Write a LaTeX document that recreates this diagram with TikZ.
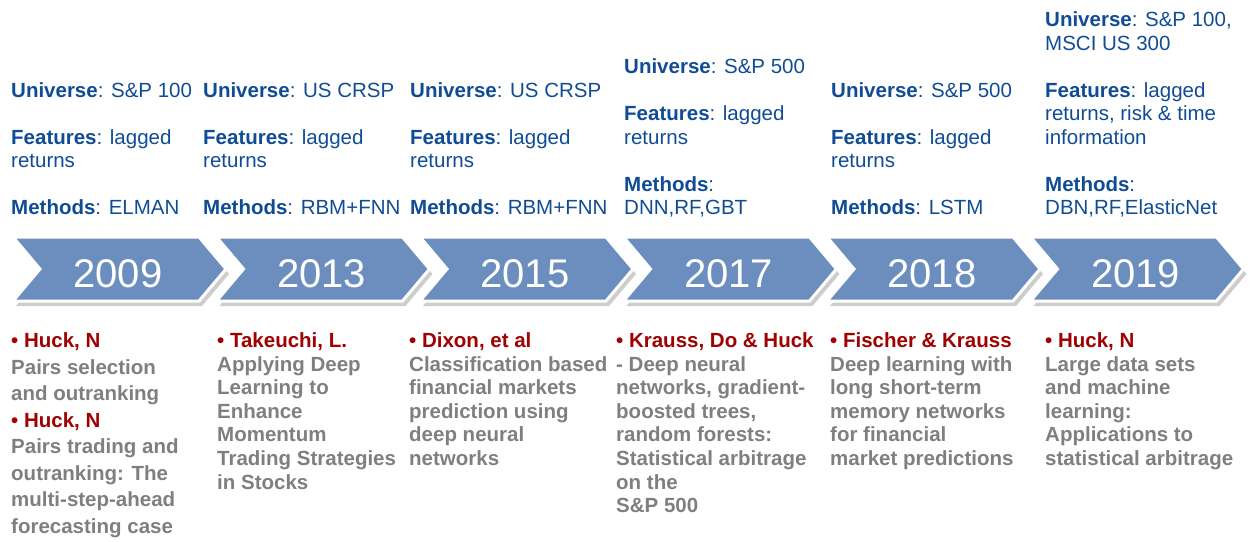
\documentclass[tikz,border=0pt]{standalone}
\usepackage{fontspec}
\setmainfont{Liberation Sans}
\usetikzlibrary{calc}

\definecolor{chevblue}{RGB}{108,142,191}
\definecolor{infoblue}{RGB}{16,76,150}
\definecolor{authred}{RGB}{160,0,0}
\definecolor{papergray}{RGB}{127,127,127}
\definecolor{shadowgray}{RGB}{205,205,205}

\newcommand{\fld}[1]{\textbf{#1}:}
\newcommand{\auth}[1]{\textcolor{authred}{\textbullet\ #1}}

\begin{document}
\begin{tikzpicture}[x=1pt,y=1pt]
                \tikzstyle{every node}=[inner sep=0pt]
                \tikzstyle{year}=[anchor=base,text=white,font=\fontsize{40}{48}\selectfont]
                \tikzstyle{info}=[anchor=base west,text=infoblue,font=\fontsize{20.5}{23.5}\selectfont]
                \tikzstyle{paper}=[anchor=base west,text=papergray,font=\fontsize{20.5}{23.6}\selectfont\bfseries]
                \useasboundingbox (0,0) rectangle (1256,-541);
                % chevrons
                \foreach \yr [count=\i from 0] in {2009,2013,2015,2017,2018,2019}{
                    \pgfmathsetmacro{\xo}{13+203.5*\i}
                    \fill [shadowgray,xshift=3pt,yshift=-5pt] (\xo,-237) -- ++(186,0) -- ++(27,-32) -- ++(-27,-32) -- ++(-186,0) -- ++(27,32) -- cycle;
                    \filldraw [fill=chevblue,draw=white,line width=3pt] (\xo,-237) -- ++(186,0) -- ++(27,-32) -- ++(-27,-32) -- ++(-186,0) -- ++(27,32) -- cycle;
                    \node [year] (y\yr) at (\xo+105,-287.5) {\yr};
                }
                % universe / features / methods
                \node [info] (u2009) at (11,-214.5) {\parbox[b]{210pt}{\raggedright
                    \fld{Universe} S\&P 100\\[\baselineskip]
                    \fld{Features} lagged\\returns\\[\baselineskip]
                    \fld{Methods} ELMAN}};
                \node [info] (u2013) at (203,-214.5) {\parbox[b]{210pt}{\raggedright
                    \fld{Universe} US CRSP\\[\baselineskip]
                    \fld{Features} lagged\\returns\\[\baselineskip]
                    \fld{Methods} RBM+FNN}};
                \node [info] (u2015) at (410,-214.5) {\parbox[b]{210pt}{\raggedright
                    \fld{Universe} US CRSP\\[\baselineskip]
                    \fld{Features} lagged\\returns\\[\baselineskip]
                    \fld{Methods} RBM+FNN}};
                \node [info] (u2017) at (624,-214.5) {\parbox[b]{210pt}{\raggedright
                    \fld{Universe} S\&P 500\\[\baselineskip]
                    \fld{Features} lagged\\returns\\[\baselineskip]
                    \fld{Methods}\\DNN,RF,GBT}};
                \node [info] (u2018) at (831,-214.5) {\parbox[b]{210pt}{\raggedright
                    \fld{Universe} S\&P 500\\[\baselineskip]
                    \fld{Features} lagged\\returns\\[\baselineskip]
                    \fld{Methods} LSTM}};
                \node [info] (u2019) at (1045,-214.5) {\parbox[b]{210pt}{\raggedright
                    \fld{Universe} S\&P 100,\\MSCI US 300\\[\baselineskip]
                    \fld{Features} lagged\\returns, risk \& time\\information\\[\baselineskip]
                    \fld{Methods}\\DBN,RF,ElasticNet}};
                % papers
                \node [paper] (p2009) at (11,-347.5) {\parbox[t]{210pt}{\raggedright\fontsize{20.5}{26.5}\selectfont
                    \auth{Huck, N}\\Pairs selection\\and outranking\\
                    \auth{Huck, N}\\Pairs trading and\\outranking: The\\multi-step-ahead\\forecasting case}};
                \node [paper] (p2013) at (217,-347.5) {\parbox[t]{210pt}{\raggedright
                    \auth{Takeuchi, L.}\\Applying Deep\\Learning to\\Enhance\\Momentum\\Trading Strategies\\in Stocks}};
                \node [paper] (p2015) at (409,-347.5) {\parbox[t]{210pt}{\raggedright
                    \auth{Dixon, et al}\\Classification based\\financial markets\\prediction using\\deep neural\\networks}};
                \node [paper] (p2017) at (616,-347.5) {\parbox[t]{210pt}{\raggedright
                    \auth{Krauss, Do \& Huck}\\- Deep neural\\networks, gradient-\\boosted trees,\\random forests:\\Statistical arbitrage\\on the\\S\&P 500}};
                \node [paper] (p2018) at (830,-347.5) {\parbox[t]{210pt}{\raggedright
                    \auth{Fischer \& Krauss}\\Deep learning with\\long short-term\\memory networks\\for financial\\market predictions}};
                \node [paper] (p2019) at (1045,-347.5) {\parbox[t]{210pt}{\raggedright
                    \auth{Huck, N}\\Large data sets\\and machine\\learning:\\Applications to\\statistical arbitrage}};
                % \draw [red] (0,-237) -- (1256,-237);
            \end{tikzpicture}
\end{document}
